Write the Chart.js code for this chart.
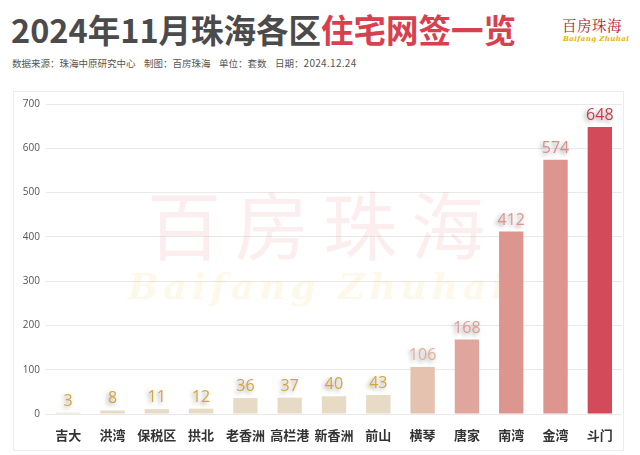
<!DOCTYPE html>
<html>
<head>
<meta charset="utf-8">
<script src="https://cdn.jsdelivr.net/npm/chart.js@4.4.1/dist/chart.umd.min.js"></script>
<style>
  body { margin: 0; width: 640px; height: 455px; background: #fff; position: relative; overflow: hidden;
         font-family: "Noto Sans CJK SC", "Noto Sans", sans-serif; }
  #title { position: absolute; left: 11px; top: 5px; font-size: 32.5px; font-weight: 700; color: #4b4b4b; white-space: nowrap; }
  #title span { color: #d9404e; }
  #sub { position: absolute; left: 12px; top: 55px; font-size: 9.5px; color: #555; white-space: nowrap; }
  #sub b { font-weight: normal; font-size: 10px; letter-spacing: 0.3px; }
  #logo1 { position: absolute; left: 562px; top: 14px; font-size: 14.5px; color: #b0222a; font-family: "Noto Serif CJK SC", serif; letter-spacing: 0.5px; white-space: nowrap; }
  #logo2 { position: absolute; left: 563px; top: 34px; font-size: 7px; font-weight: bold; color: #e8b400; font-style: italic; font-family: "DejaVu Serif", serif; letter-spacing: 0.4px; white-space: nowrap; }
  #panel { position: absolute; left: 13px; top: 91px; width: 611px; height: 360px; border: 1px solid #ececec; box-sizing: border-box; }
</style>
</head>
<body>
<div id="title">2024年11月珠海各区<span>住宅网签一览</span></div>
<div id="sub">数据来源：珠海中原研究中心&nbsp;&nbsp;&nbsp;&nbsp;制图：百房珠海&nbsp;&nbsp;&nbsp;&nbsp;单位：套数&nbsp;&nbsp;&nbsp;&nbsp;日期：<b>2024.12.24</b></div>
<div id="logo1">百房珠海</div>
<div id="logo2">Baifang Zhuhai</div>
<div id="panel"><canvas id="c"></canvas></div>
<script>
const districts = ['吉大', '洪湾', '保税区', '拱北', '老香洲', '高栏港', '新香洲', '前山', '横琴', '唐家', '南湾', '金湾', '斗门'];
const sales = [3, 8, 11, 12, 36, 37, 40, 43, 106, 168, 412, 574, 648];
const barColors = ['#e8dbc6', '#e8dbc6', '#e8dbc6', '#e8dbc6', '#e8dbc6', '#e8dbc6', '#e8dbc6', '#e8dbc6',
                   '#e5c2b0', '#e0a59d', '#dd958f', '#dd958f', '#d34b5a'];
const labelColors = ['#d9a53a', '#d9a53a', '#d9a53a', '#d9a53a', '#d9a53a', '#d9a53a', '#d9a53a', '#d9a53a',
                     '#e2ae9c', '#e09c94', '#df948e', '#dc8c88', '#c63f4d'];
const yTicks = [0, 100, 200, 300, 400, 500, 600, 700];

// faint watermark behind the bars
const watermark = {
  id: 'watermark',
  beforeDatasetsDraw(chart) {
    const ctx = chart.ctx;
    ctx.save();
    ctx.textAlign = 'center';
    ctx.textBaseline = 'middle';
    const cx = 302;
    ctx.fillStyle = 'rgba(232, 140, 140, 0.15)';
    ctx.font = '74px "Noto Sans CJK SC"';
    ctx.letterSpacing = '14px';
    ctx.fillText('百房珠海', cx + 7, 134);
    ctx.fillStyle = 'rgba(240, 205, 110, 0.15)';
    ctx.font = 'italic bold 36px "DejaVu Serif"';
    ctx.letterSpacing = '5px';
    ctx.fillText('Baifang Zhuhai', cx + 3, 198);
    ctx.restore();
  }
};

// value labels with a soft shadow
const valueLabels = {
  id: 'valueLabels',
  afterDatasetsDraw(chart) {
    const ctx = chart.ctx;
    const meta = chart.getDatasetMeta(0);
    ctx.save();
    ctx.font = '16px "Open Sans"';
    ctx.textAlign = 'center';
    ctx.textBaseline = 'alphabetic';
    ctx.shadowColor = 'rgba(0,0,0,0.4)';
    ctx.shadowOffsetX = -2;
    ctx.shadowOffsetY = 2;
    ctx.shadowBlur = 4;
    meta.data.forEach((bar, i) => {
      ctx.fillStyle = labelColors[i];
      ctx.fillText(sales[i], bar.x, bar.y - 7);
    });
    ctx.restore();
  }
};

new Chart(document.getElementById('c'), {
  type: 'bar',
  data: {
    labels: districts,
    datasets: [{
      data: sales,
      backgroundColor: barColors,
      barPercentage: 0.55,
      categoryPercentage: 1
    }]
  },
  options: {
    responsive: true,
    maintainAspectRatio: false,
    animation: false,
    layout: { padding: { top: 6, right: 1, left: 0, bottom: 0 } },
    plugins: { legend: { display: false }, tooltip: { enabled: false } },
    scales: {
      x: {
        grid: { display: false },
        border: { display: false },
        ticks: { color: '#333', font: { size: 13, weight: 'bold', family: '"Noto Sans CJK SC"' }, padding: 5,
                 autoSkip: false, minRotation: 0, maxRotation: 0 },
        afterFit: s => { s.height = 36; }
      },
      y: {
        min: 0,
        max: 700,
        afterBuildTicks: s => { s.ticks = yTicks.map(v => ({ value: v })); },
        grid: { color: '#e9e9e9', drawTicks: false },
        border: { display: false },
        ticks: { color: '#555', font: { size: 10, family: '"Open Sans"' }, padding: 6 },
        afterFit: s => { s.width = 32; }
      }
    }
  },
  plugins: [watermark, valueLabels]
});
</script>
</body>
</html>
